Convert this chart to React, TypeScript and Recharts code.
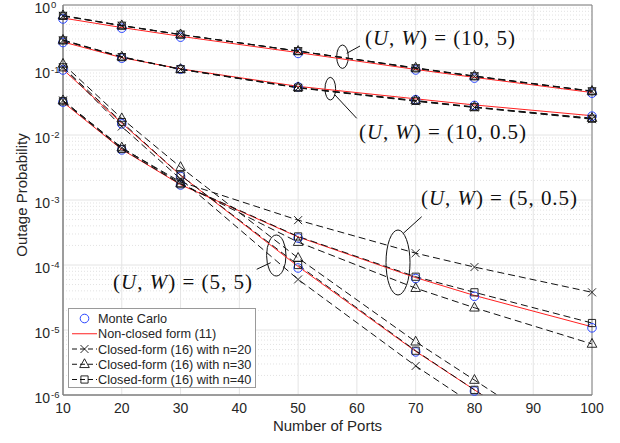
import React from "react";
import {
  ComposedChart,
  Line,
  XAxis,
  YAxis,
  CartesianGrid,
  Legend,
  Customized,
} from "recharts";

const ports = [10, 20, 30, 50, 70, 80, 100];
const xTicks = [10, 20, 30, 40, 50, 60, 70, 80, 90, 100];
const majorTicks = [1e-6, 1e-5, 1e-4, 1e-3, 1e-2, 1e-1, 1];
const minorTicks = majorTicks
  .slice(0, -1)
  .flatMap((d) => [2, 3, 4, 5, 6, 7, 8, 9].map((m) => m * d));

// (U, W) = (10, 5)
const mc10_5 = [0.61, 0.44, 0.32, 0.18, 0.1, 0.075, 0.044];
const nc10_5 = [0.63, 0.45, 0.33, 0.185, 0.102, 0.077, 0.045];
const cf20_10_5 = [0.68, 0.48, 0.35, 0.195, 0.107, 0.08, 0.047];
const cf30_10_5 = [0.69, 0.485, 0.352, 0.196, 0.108, 0.081, 0.0475];
const cf40_10_5 = [0.68, 0.48, 0.35, 0.195, 0.106, 0.08, 0.047];

// (U, W) = (10, 0.5)
const mc10_05 = [0.265, 0.152, 0.103, 0.055, 0.035, 0.0285, 0.0195];
const nc10_05 = [0.27, 0.155, 0.104, 0.056, 0.036, 0.029, 0.0198];
const cf20_10_05 = [0.285, 0.158, 0.102, 0.053, 0.033, 0.0265, 0.0175];
const cf30_10_05 = [0.29, 0.16, 0.103, 0.054, 0.034, 0.027, 0.0182];
const cf40_10_05 = [0.285, 0.158, 0.103, 0.0535, 0.0335, 0.0268, 0.0178];

// (U, W) = (5, 0.5)
const mc5_05 = [0.032, 0.0059, 0.0017, 2.6e-4, 6.2e-5, 3.3e-5, 1.08e-5];
const nc5_05 = [0.032, 0.006, 0.00172, 2.7e-4, 6.4e-5, 3.4e-5, 1.12e-5];
const cf20_5_05 = [0.034, 0.0063, 0.0019, 4.9e-4, 1.52e-4, 9.3e-5, 3.8e-5];
const cf30_5_05 = [0.034, 0.0064, 0.0018, 2.25e-4, 4.4e-5, 2.2e-5, 6.1e-6];
const cf40_5_05 = [0.033, 0.0061, 0.00175, 2.75e-4, 6.6e-5, 3.8e-5, 1.28e-5];

// (U, W) = (5, 5)
const mc5_5 = [0.1, 0.0148, 0.0023, 9e-5, 4.6e-6, 1.15e-6, null];
const nc5_5 = [0.102, 0.0152, 0.0024, 9.5e-5, 4.7e-6, 1.2e-6, 7.5e-8];
const cf20_5_5 = [0.11, 0.0135, 0.0021, 6e-5, 2.8e-6, 7e-7, 4.5e-8];
const cf30_5_5 = [0.124, 0.018, 0.0032, 1.28e-4, 6.6e-6, 1.7e-6, 1.1e-7];
const cf40_5_5 = [0.11, 0.0158, 0.0024, 1.0e-4, 4.8e-6, 1.2e-6, 7.8e-8];

const groups = [
  { id: "a", mc: mc10_5, nc: nc10_5, n20: cf20_10_5, n30: cf30_10_5, n40: cf40_10_5 },
  { id: "b", mc: mc10_05, nc: nc10_05, n20: cf20_10_05, n30: cf30_10_05, n40: cf40_10_05 },
  { id: "c", mc: mc5_05, nc: nc5_05, n20: cf20_5_05, n30: cf30_5_05, n40: cf40_5_05 },
  { id: "d", mc: mc5_5, nc: nc5_5, n20: cf20_5_5, n30: cf30_5_5, n40: cf40_5_5 },
];

const Y_MIN = 1e-6;
// markers below the axis floor are not drawn
const inRange = (v: number | null) => (v != null && v >= Y_MIN ? v : null);

const rows = ports.map((port, i) => {
  const row: Record<string, number | null> = { port };
  groups.forEach((g) => {
    row[`${g.id}_mc`] = inRange(g.mc[i]);
    row[`${g.id}_nc`] = g.nc[i];
    (["n20", "n30", "n40"] as const).forEach((k) => {
      row[`${g.id}_${k}`] = g[k][i];
      row[`${g.id}_${k}m`] = inRange(g[k][i]);
    });
  });
  return row;
});

const FONT = "'Liberation Sans', Arial, Helvetica, sans-serif";
const SERIF = "'Liberation Serif', 'Times New Roman', serif";
const AXIS = "#808080";
const TEXT = "#262626";
const BLUE = "#2a46ff";
const RED = "#ff2020";
const DASH = "7 4";

type Shape = "circle" | "cross" | "tri" | "square";

function markerPath(shape: Shape, cx: number, cy: number) {
  if (shape === "cross") {
    const s = 4;
    return `M${cx - s},${cy - s}L${cx + s},${cy + s}M${cx - s},${cy + s}L${cx + s},${cy - s}`;
  }
  if (shape === "tri") {
    return `M${cx},${cy - 5.5}L${cx + 4.8},${cy + 3.3}L${cx - 4.8},${cy + 3.3}Z`;
  }
  const s = 3.6;
  return `M${cx - s},${cy - s}H${cx + s}V${cy + s}H${cx - s}Z`;
}

function Marker({ shape, cx, cy }: { shape: Shape; cx: number; cy: number }) {
  if (shape === "circle") {
    return <circle cx={cx} cy={cy} r={4.3} fill="none" stroke={BLUE} strokeWidth={1} />;
  }
  return <path d={markerPath(shape, cx, cy)} fill="none" stroke="#111" strokeWidth={0.9} />;
}

const makeDot = (shape: Shape, name: string) => (props: any) => {
  const { cx, cy, index } = props;
  const key = `${name}-${index}`;
  if (cx == null || cy == null || Number.isNaN(cy) || props.value == null) {
    return <g key={key} />;
  }
  return (
    <g key={key}>
      <Marker shape={shape} cx={cx} cy={cy} />
    </g>
  );
};

const YTick = (props: any) => {
  const { x, y, payload } = props;
  const exp = Math.round(Math.log10(payload.value));
  return (
    <g fontFamily={FONT} fill={TEXT}>
      <text x={x - 5} y={y + 7.5} textAnchor="end" fontSize={14}>
        10
      </text>
      <text x={x - 4} y={y + 2.5} fontSize={9.5}>
        {exp}
      </text>
    </g>
  );
};

const XTick = (props: any) => {
  const { x, y, payload } = props;
  return (
    <text x={x} y={y} dy="0.71em" textAnchor="middle" fontSize={14} fontFamily={FONT} fill={TEXT}>
      {payload.value}
    </text>
  );
};

const legendItems: { label: string; line?: string; dash?: boolean; shape?: Shape }[] = [
  { label: "Monte Carlo", shape: "circle" },
  { label: "Non-closed form (11)", line: RED },
  { label: "Closed-form (16) with n=20", line: "#111", dash: true, shape: "cross" },
  { label: "Closed-form (16) with n=30", line: "#111", dash: true, shape: "tri" },
  { label: "Closed-form (16) with n=40", line: "#111", dash: true, shape: "square" },
];

function LegendBox() {
  return (
    <svg width={189} height={81} style={{ display: "block" }}>
      <rect x={0.5} y={0.5} width={187} height={79} fill="#fff" stroke="#9a9a9a" />
      {legendItems.map((it, i) => {
        const cy = 10.5 + i * 15.25;
        return (
          <g key={it.label}>
            {it.line && (
              <line
                x1={4}
                x2={29}
                y1={cy}
                y2={cy}
                stroke={it.line}
                strokeWidth={1}
                strokeDasharray={it.dash ? "5 3" : undefined}
              />
            )}
            {it.shape && <Marker shape={it.shape} cx={16.5} cy={cy} />}
            <text x={30} y={cy + 4.5} fontSize={12.7} fontFamily={FONT} fill={TEXT}>
              {it.label}
            </text>
          </g>
        );
      })}
    </svg>
  );
}

function UW({ x, y, w, pair }: { x: number; y: number; w: number; pair: string }) {
  return (
    <text x={x} y={y} fontSize={21} fontFamily={SERIF} fill="#111" textLength={w} lengthAdjust="spacing">
      (<tspan fontStyle="italic">U</tspan>, <tspan fontStyle="italic">W</tspan>) = ({pair})
    </text>
  );
}

function Annotations() {
  return (
    <g stroke="#111" strokeWidth={1} fill="none">
      <ellipse cx={342.5} cy={56.7} rx={5.8} ry={11.7} />
      <line x1={346.7} y1={53.3} x2={360} y2={46} />
      <ellipse cx={330.3} cy={88.7} rx={5.3} ry={11.3} />
      <line x1={335} y1={95} x2={356.7} y2={118.3} />
      <ellipse cx={398} cy={262.5} rx={12} ry={32.5} />
      <line x1={403.3} y1={233.3} x2={421.7} y2={216.7} />
      <ellipse cx={276.3} cy={255.5} rx={9.7} ry={20.5} />
      <line x1={256.7} y1={269.3} x2={270.7} y2={262.7} />
      <g stroke="none">
        <UW x={365} y={45} w={150} pair="10, 5" />
        <UW x={359} y={138.5} w={167} pair="10, 0.5" />
        <UW x={421} y={205} w={156} pair="5, 0.5" />
        <UW x={113} y={288.5} w={139} pair="5, 5" />
        <text
          x={27}
          y={195}
          transform="rotate(-90 27 195)"
          textAnchor="middle"
          fontSize={15}
          fontFamily={FONT}
          fill={TEXT}
        >
          Outage Probability
        </text>
        <text x={327.5} y={431} textAnchor="middle" fontSize={15} fontFamily={FONT} fill={TEXT}>
          Number of Ports
        </text>
      </g>
    </g>
  );
}

export default function App() {
  return (
    <div style={{ position: "absolute", left: 0, top: 0, background: "#fff" }}>
      <ComposedChart
        width={620}
        height={443}
        data={rows}
        margin={{ top: 5, right: 28, left: 0, bottom: 0 }}
      >
        <XAxis
          xAxisId="b"
          type="number"
          dataKey="port"
          domain={[10, 100]}
          ticks={xTicks}
          interval={0}
          height={48}
          tickLine={false}
          stroke={AXIS}
          tick={<XTick />}
        />
        <XAxis
          xAxisId="t"
          orientation="top"
          type="number"
          domain={[10, 100]}
          allowDataOverflow
          ticks={xTicks}
          mirror
          tick={false}
          tickSize={5}
          stroke={AXIS}
        />
        <XAxis
          xAxisId="bt"
          type="number"
          domain={[10, 100]}
          allowDataOverflow
          ticks={xTicks}
          mirror
          tick={false}
          tickSize={5}
          stroke={AXIS}
        />
        <YAxis
          yAxisId="l"
          scale="log"
          type="number"
          domain={[Y_MIN, 1]}
          allowDataOverflow
          ticks={majorTicks}
          interval={0}
          width={63}
          tickLine={false}
          stroke={AXIS}
          tick={<YTick />}
        />
        <YAxis yAxisId="m" scale="log" type="number" domain={[Y_MIN, 1]} hide />
        <YAxis
          yAxisId="lt"
          scale="log"
          type="number"
          domain={[Y_MIN, 1]}
          allowDataOverflow
          ticks={[...majorTicks, ...minorTicks]}
          interval={0}
          mirror
          tick={false}
          tickSize={3}
          stroke={AXIS}
        />
        <YAxis
          yAxisId="r"
          orientation="right"
          scale="log"
          type="number"
          domain={[Y_MIN, 1]}
          allowDataOverflow
          ticks={[...majorTicks, ...minorTicks]}
          interval={0}
          mirror
          tick={false}
          tickSize={3}
          stroke={AXIS}
        />
        <CartesianGrid
          xAxisId="b"
          yAxisId="l"
          vertical={false}
          horizontalValues={minorTicks}
          stroke="#e2e2e2"
          strokeDasharray="1 2"
        />
        <CartesianGrid xAxisId="b" yAxisId="l" stroke="#e4e4e4" />

        {groups.map((g) => (
          <Line
            key={`${g.id}_nc`}
            xAxisId="b"
            yAxisId="l"
            dataKey={`${g.id}_nc`}
            stroke={RED}
            strokeWidth={1}
            dot={false}
            isAnimationActive={false}
          />
        ))}
        {groups.flatMap((g) =>
          (["n20", "n30", "n40"] as const).map((k) => (
            <Line
              key={`${g.id}_${k}`}
              xAxisId="b"
              yAxisId="l"
              dataKey={`${g.id}_${k}`}
              stroke="#111"
              strokeWidth={1}
              strokeDasharray={DASH}
              dot={false}
              isAnimationActive={false}
            />
          ))
        )}
        {groups.map((g) => (
          <Line
            key={`${g.id}_mc`}
            xAxisId="b"
            yAxisId="m"
            dataKey={`${g.id}_mc`}
            stroke="none"
            dot={makeDot("circle", `${g.id}_mc`)}
            isAnimationActive={false}
          />
        ))}
        {groups.flatMap((g) =>
          ([
            ["n20", "cross"],
            ["n30", "tri"],
            ["n40", "square"],
          ] as const).map(([k, shape]) => (
            <Line
              key={`${g.id}_${k}m`}
              xAxisId="b"
              yAxisId="m"
              dataKey={`${g.id}_${k}m`}
              stroke="none"
              dot={makeDot(shape, `${g.id}_${k}m`)}
              isAnimationActive={false}
            />
          ))
        )}
        <Customized component={Annotations} />
        <Legend
          layout="horizontal"
          verticalAlign="middle"
          align="center"
          wrapperStyle={{ left: 68, top: 308, width: 189, height: 81 }}
          content={() => <LegendBox />}
        />
      </ComposedChart>
    </div>
  );
}
